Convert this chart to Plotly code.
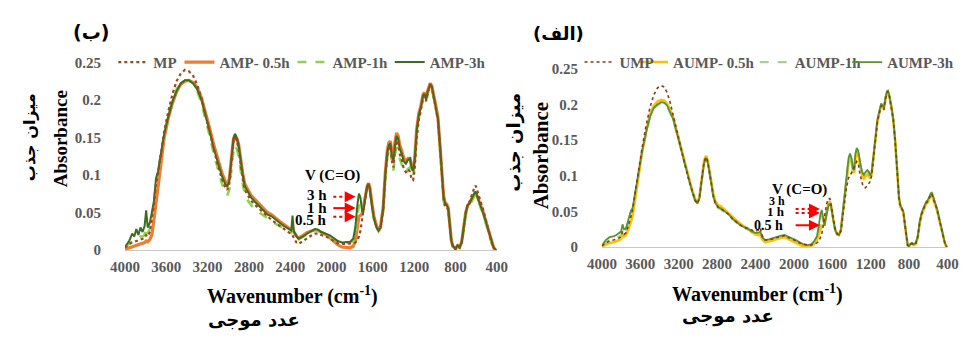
import plotly.graph_objects as go

# ---------------- Left panel (ب): MP / AMP ----------------
WN_L = [4000, 3960, 3930, 3910, 3890, 3870, 3850, 3830, 3810, 3795,
        3780, 3760, 3740, 3720, 3700, 3680, 3650, 3620, 3580, 3540,
        3500, 3460, 3420, 3380, 3340, 3300, 3260, 3220, 3180, 3140,
        3100, 3060, 3030, 3010, 2990, 2970, 2950, 2935, 2915, 2900,
        2880, 2860, 2840, 2810, 2780, 2740, 2700, 2660, 2620, 2580,
        2540, 2500, 2460, 2420, 2390, 2378, 2365, 2340, 2320, 2280,
        2240, 2200, 2160, 2130, 2100, 2060, 2020, 1980, 1940, 1900,
        1860, 1820, 1790, 1770, 1750, 1735, 1720, 1705, 1695, 1675,
        1655, 1642, 1630, 1610, 1590, 1565, 1545, 1525, 1500, 1480,
        1460, 1445, 1430, 1415, 1400, 1385, 1370, 1355, 1340, 1320,
        1300, 1280, 1260, 1240, 1225, 1210, 1195, 1175, 1155, 1135,
        1115, 1100, 1085, 1070, 1055, 1045, 1030, 1010, 990, 970,
        950, 930, 915, 900, 885, 870, 855, 840, 825, 800,
        780, 760, 740, 720, 700, 680, 665, 650, 635, 620,
        605, 590, 570, 550, 530, 510, 490, 470, 450, 430,
        410, 400]

MP = [.003, .008, .010, .011, .012, .012, .013, .014, .016, .020,
      .018, .024, .040, .060, .088, .102, .130, .158, .185, .208,
      .225, .235, .240, .238, .232, .220, .202, .180, .156, .132,
      .112, .094, .084, .080, .088, .116, .144, .150, .144, .134,
      .112, .094, .080, .072, .066, .060, .055, .049, .044, .040,
      .036, .032, .028, .024, .021, .020, .016, .010, .008, .012,
      .016, .019, .022, .022, .020, .018, .016, .012, .009, .008,
      .008, .008, .009, .010, .013, .018, .026, .040, .050, .070,
      .084, .088, .083, .062, .043, .031, .026, .030, .053, .096,
      .126, .136, .138, .118, .110, .134, .146, .142, .128, .120,
      .108, .104, .108, .104, .094, .093, .108, .150, .174, .186,
      .202, .205, .198, .208, .216, .220, .217, .204, .189, .174,
      .138, .098, .068, .058, .058, .053, .033, .011, .004, .001,
      .005, .003, .010, .030, .050, .062, .064, .070, .077, .082,
      .086, .080, .072, .063, .053, .042, .031, .020, .010, .003,
      0, 0]

AMP_05 = [.001, .003, .005, .006, .006, .007, .008, .009, .010, .012,
          .011, .014, .020, .040, .062, .085, .118, .150, .176, .196,
          .211, .221, .225, .226, .223, .216, .203, .184, .162, .140,
          .120, .102, .092, .087, .095, .122, .148, .153, .148, .141,
          .120, .102, .088, .080, .073, .067, .061, .055, .050, .047,
          .042, .038, .034, .030, .027, .030, .024, .019, .016, .019,
          .023, .025, .027, .026, .024, .021, .017, .012, .007, .004,
          .003, .003, .005, .012, .030, .045, .046, .048, .055, .072,
          .085, .089, .084, .063, .045, .032, .027, .032, .057, .102,
          .133, .143, .145, .130, .124, .145, .156, .152, .140, .132,
          .122, .118, .122, .122, .110, .106, .122, .162, .182, .192,
          .207, .210, .203, .212, .219, .222, .219, .207, .192, .177,
          .142, .102, .072, .063, .061, .056, .036, .013, .005, .002,
          .006, .004, .011, .031, .051, .060, .062, .066, .071, .074,
          .077, .072, .065, .058, .050, .040, .030, .020, .010, .003,
          0, 0]

AMP_1 = [.004, .008, .012, .014, .016, .016, .018, .018, .020, .030,
         .022, .028, .042, .062, .090, .103, .130, .156, .180, .200,
         .214, .223, .226, .226, .222, .212, .196, .175, .152, .128,
         .106, .088, .078, .073, .080, .106, .132, .140, .134, .125,
         .104, .088, .075, .066, .060, .054, .050, .046, .042, .038,
         .035, .032, .028, .025, .023, .028, .021, .016, .014, .017,
         .021, .024, .027, .026, .023, .021, .018, .014, .011, .009,
         .009, .010, .012, .022, .045, .060, .058, .050, .052, .070,
         .084, .087, .081, .060, .041, .030, .025, .029, .052, .095,
         .124, .133, .135, .115, .106, .128, .137, .134, .122, .114,
         .105, .102, .108, .110, .100, .098, .114, .154, .176, .187,
         .202, .205, .197, .207, .215, .219, .216, .203, .188, .173,
         .137, .096, .066, .057, .056, .052, .032, .010, .004, .002,
         .005, .003, .009, .028, .047, .057, .059, .063, .068, .071,
         .074, .069, .062, .055, .047, .038, .028, .018, .009, .003,
         0, 0]

AMP_3 = [.004, .012, .022, .018, .028, .020, .030, .024, .032, .053,
         .030, .036, .050, .065, .095, .105, .130, .155, .178, .198,
         .212, .222, .226, .226, .222, .214, .200, .180, .158, .135,
         .115, .098, .088, .084, .092, .120, .148, .155, .148, .140,
         .118, .100, .085, .077, .070, .064, .058, .052, .047, .045,
         .040, .036, .032, .028, .026, .046, .025, .018, .015, .018,
         .022, .025, .028, .027, .024, .022, .020, .016, .012, .010,
         .010, .011, .015, .030, .060, .075, .070, .052, .050, .070,
         .085, .088, .082, .060, .042, .030, .026, .030, .055, .100,
         .130, .140, .142, .125, .118, .140, .152, .148, .135, .128,
         .118, .115, .120, .122, .110, .105, .120, .160, .180, .190,
         .205, .208, .200, .210, .218, .221, .218, .205, .190, .175,
         .140, .100, .070, .062, .060, .055, .035, .012, .005, .002,
         .006, .004, .010, .030, .050, .060, .062, .066, .072, .075,
         .078, .072, .065, .058, .050, .040, .030, .020, .010, .003,
         0, 0]

# ---------------- Right panel (الف): UMP / AUMP ----------------
WN_R = [4000, 3960, 3920, 3880, 3850, 3820, 3800, 3785, 3770, 3750,
        3720, 3700, 3680, 3650, 3620, 3580, 3540, 3500, 3460, 3420,
        3380, 3350, 3320, 3290, 3260, 3220, 3180, 3140, 3100, 3060,
        3030, 3005, 2985, 2960, 2935, 2915, 2900, 2880, 2860, 2840,
        2820, 2790, 2760, 2720, 2680, 2640, 2600, 2560, 2520, 2480,
        2440, 2400, 2370, 2350, 2330, 2300, 2260, 2220, 2180, 2140,
        2100, 2060, 2020, 1980, 1940, 1900, 1860, 1820, 1790, 1760,
        1740, 1725, 1710, 1695, 1680, 1660, 1640, 1625, 1610, 1590,
        1570, 1550, 1530, 1510, 1490, 1470, 1450, 1430, 1415, 1400,
        1385, 1372, 1360, 1345, 1330, 1315, 1300, 1285, 1270, 1255,
        1235, 1220, 1205, 1190, 1170, 1150, 1130, 1110, 1090, 1075,
        1062, 1045, 1030, 1020, 1005, 985, 965, 945, 925, 905,
        890, 875, 860, 845, 830, 815, 800, 785, 770, 750,
        730, 710, 690, 670, 650, 635, 620, 605, 590, 575,
        565, 550, 530, 510, 490, 470, 450, 430, 415, 400]

UMP = [.002, .006, .009, .010, .011, .013, .015, .022, .018, .020,
       .032, .044, .052, .080, .108, .140, .170, .195, .213, .223,
       .226, .224, .216, .203, .186, .162, .141, .118, .097, .078,
       .066, .061, .068, .096, .120, .126, .121, .106, .088, .072,
       .062, .056, .054, .050, .046, .040, .035, .031, .028, .026,
       .023, .022, .024, .027, .016, .010, .010, .012, .014, .015,
       .016, .014, .011, .009, .006, .004, .003, .003, .004, .006,
       .008, .012, .018, .030, .045, .060, .068, .068, .058, .040,
       .026, .019, .017, .022, .040, .065, .085, .097, .100, .104,
       .108, .110, .115, .120, .118, .105, .095, .088, .084, .083,
       .086, .090, .092, .100, .125, .156, .175, .187, .198, .195,
       .192, .208, .216, .218, .211, .197, .179, .149, .109, .069,
       .057, .054, .049, .034, .014, .003, .001, .004, .005, .003,
       .005, .014, .033, .046, .053, .058, .062, .064, .070, .073,
       .075, .070, .061, .053, .041, .029, .017, .007, .002, 0]

AUMP_05 = [.001, .004, .006, .007, .008, .010, .012, .018, .015, .017,
           .026, .035, .044, .070, .100, .134, .162, .185, .198, .204,
           .206, .205, .201, .193, .183, .162, .142, .120, .099, .080,
           .068, .062, .070, .098, .122, .128, .123, .108, .091, .075,
           .065, .059, .057, .052, .048, .042, .037, .033, .029, .026,
           .021, .018, .017, .018, .011, .007, .008, .010, .012, .013,
           .014, .012, .009, .006, .003, .001, .001, .002, .004, .010,
           .018, .026, .030, .030, .034, .050, .061, .064, .057, .039,
           .025, .018, .017, .024, .046, .075, .098, .118, .125, .120,
           .106, .104, .124, .133, .130, .115, .107, .099, .096, .099,
           .102, .100, .096, .102, .127, .157, .176, .188, .199, .196,
           .193, .208, .217, .218, .211, .197, .179, .149, .109, .069,
           .056, .053, .048, .033, .014, .003, .001, .004, .005, .003,
           .005, .013, .032, .045, .052, .057, .061, .063, .069, .072,
           .074, .069, .060, .052, .040, .028, .017, .007, .002, 0]

AUMP_1 = [.002, .007, .010, .012, .013, .015, .017, .027, .021, .023,
          .036, .046, .053, .078, .104, .134, .159, .181, .194, .199,
          .202, .201, .197, .189, .179, .159, .139, .117, .096, .077,
          .065, .060, .067, .094, .117, .124, .119, .104, .087, .071,
          .061, .055, .053, .049, .045, .039, .034, .030, .027, .025,
          .022, .020, .020, .021, .013, .009, .010, .012, .014, .015,
          .016, .014, .011, .009, .006, .003, .002, .003, .006, .012,
          .024, .038, .045, .036, .032, .046, .058, .061, .055, .038,
          .024, .018, .017, .024, .048, .078, .102, .122, .128, .122,
          .108, .106, .127, .135, .132, .117, .109, .101, .098, .102,
          .105, .103, .098, .103, .128, .158, .177, .189, .200, .197,
          .194, .209, .217, .218, .211, .197, .179, .149, .109, .069,
          .057, .054, .049, .034, .014, .003, .001, .005, .006, .004,
          .006, .014, .034, .047, .054, .059, .063, .065, .071, .074,
          .076, .071, .062, .054, .042, .029, .018, .008, .002, 0]

AUMP_3 = [.002, .010, .014, .015, .017, .020, .022, .032, .025, .026,
          .040, .050, .055, .080, .105, .135, .160, .182, .195, .200,
          .203, .202, .198, .190, .180, .160, .140, .118, .097, .078,
          .066, .061, .068, .095, .118, .125, .120, .105, .088, .072,
          .062, .056, .054, .050, .046, .040, .035, .031, .028, .026,
          .022, .020, .020, .022, .014, .010, .011, .013, .015, .016,
          .017, .015, .012, .010, .007, .004, .003, .004, .008, .015,
          .030, .045, .052, .040, .030, .045, .058, .061, .055, .038,
          .024, .018, .017, .025, .050, .080, .105, .125, .131, .125,
          .110, .108, .130, .139, .135, .120, .112, .104, .101, .105,
          .108, .106, .100, .105, .130, .160, .178, .190, .201, .198,
          .195, .210, .218, .219, .212, .198, .180, .150, .110, .070,
          .058, .055, .050, .035, .015, .003, .001, .005, .006, .004,
          .006, .015, .035, .048, .055, .060, .064, .066, .072, .075,
          .077, .072, .063, .055, .043, .030, .018, .008, .002, 0]

X_TICKS = [4000, 3600, 3200, 2800, 2400, 2000, 1600, 1200, 800, 400]
Y_TICKS = [0, 0.05, 0.1, 0.15, 0.2, 0.25]
Y_TICKTEXT = ["0", "0.05", "0.1", "0.15", "0.2", "0.25"]

W, H = 975, 340


def px(x):
    return x / W


def py(y):
    return 1 - y / H


SERIF = "Liberation Serif, Times New Roman, Times, serif"
ARAB = "DejaVu Sans, Noto Sans, sans-serif"
GRAY = "#595959"

fig = go.Figure()

left_series = [
    ("MP", MP, "#A0461E", "dot", 2.2, "legend", "x", "y"),
    ("AMP- 0.5h", AMP_05, "#ED7D31", "solid", 3.2, "legend2", "x", "y"),
    ("AMP-1h", AMP_1, "#92D050", "dash", 2.6, "legend3", "x", "y"),
    ("AMP-3h", AMP_3, "#3A6E1F", "solid", 2.0, "legend4", "x", "y"),
]
right_series = [
    ("UMP", UMP, "#8B3A0E", "dot", 1.6, "legend5", "x2", "y2"),
    ("AUMP- 0.5h", AUMP_05, "#FFC000", "solid", 2.6, "legend6", "x2", "y2"),
    ("AUMP-1h", AUMP_1, "#A9D18E", "dash", 2.2, "legend7", "x2", "y2"),
    ("AUMP-3h", AUMP_3, "#5A9232", "solid", 1.8, "legend8", "x2", "y2"),
]

draw_order = [1, 2, 3, 0]
for series, wn in ((left_series, WN_L), (right_series, WN_R)):
    for i in draw_order:
        name, vals, col, dash, wid, leg, xa, ya = series[i]
        fig.add_trace(go.Scatter(
            x=wn, y=vals, name=name, mode="lines",
            line=dict(color=col, dash=dash, width=wid),
            xaxis=xa, yaxis=ya, legend=leg, showlegend=True,
        ))

axis_font = dict(family=SERIF, size=15, color=GRAY, weight="bold")
xcommon = dict(range=[4000, 400], tickvals=X_TICKS, ticks="outside", ticklen=3,
               tickcolor="rgba(0,0,0,0)", showgrid=False,
               zeroline=False, showline=True, linecolor="#C8C8C8", linewidth=1,
               tickfont=axis_font, fixedrange=True)
ycommon = dict(range=[0, 0.25], tickvals=Y_TICKS, ticktext=Y_TICKTEXT,
               ticks="outside", ticklen=20, tickcolor="rgba(0,0,0,0)",
               showgrid=False, zeroline=False, showline=False,
               tickfont=axis_font, fixedrange=True)

legend_font = dict(family=SERIF, size=15, color=GRAY, weight="bold")
leg_text_start = {"legend": 150, "legend2": 218, "legend3": 334, "legend4": 434,
                  "legend5": 629, "legend6": 684, "legend7": 809, "legend8": 904}
legends = {}
for k, xs in leg_text_start.items():
    legends[k] = dict(x=px(xs - 49), y=py(57), xanchor="left", yanchor="middle",
                      orientation="h", font=legend_font, bgcolor="rgba(0,0,0,0)",
                      borderwidth=0, itemwidth=30)

fig.update_layout(
    width=W, height=H, autosize=False,
    margin=dict(l=0, r=0, t=0, b=0),
    paper_bgcolor="white", plot_bgcolor="white",
    xaxis=dict(domain=[px(113), px(495)], anchor="y", **xcommon),
    yaxis=dict(domain=[1 - 254 / H, 1 - 57 / H], anchor="x", **ycommon),
    xaxis2=dict(domain=[px(603), px(958)], anchor="y2", **xcommon),
    yaxis2=dict(domain=[1 - 251 / H, 1 - 63.5 / H], anchor="x2", **ycommon),
    **legends,
)

ann = []


def text(x, y, s, size, family=SERIF, color="black", angle=0, xanchor="center"):
    ann.append(dict(x=px(x), y=py(y), xref="paper", yref="paper", text=s,
                    showarrow=False, textangle=angle, xanchor=xanchor, yanchor="middle",
                    font=dict(family=family, size=size, color=color)))


# panel labels
text(78, 25, "<b>(ب)</b>", 19, family=ARAB)
text(558, 27, "<b>(الف)</b>", 18, family=ARAB)
# x titles
text(285, 302, "<b>Wavenumber (cm<sup>-1</sup>)</b>", 20)
text(763, 300, "<b>Wavenumber (cm<sup>-1</sup>)</b>", 20)
text(246, 327, "<b>عدد موجی</b>", 18, family=ARAB)
text(733, 323, "<b>عدد موجی</b>", 18, family=ARAB)
# y titles
text(47, 137, "<b>Absorbance</b>", 19, angle=-90)
text(15, 136, "<b>میزان جذب</b>", 16, family=ARAB, angle=-90)
text(540, 155, "<b>Absorbance</b>", 21, angle=-90)
text(513, 141, "<b>میزان جذب</b>", 18, family=ARAB, angle=-90)
# C=O annotations left
text(326, 176, "<b>V (C=O)</b>", 15)
text(323, 196, "<b>3 h</b>", 15, xanchor="right")
text(323, 210, "<b>1 h</b>", 15, xanchor="right")
text(323, 222, "<b>0.5 h</b>", 15, xanchor="right")
# C=O annotations right
text(806, 190, "<b>V (C=O)</b>", 15)
text(793, 203, "<b>3 h</b>", 12, xanchor="right")
text(793, 214, "<b>1 h</b>", 13, xanchor="right")
text(791, 228, "<b>0.5 h</b>", 14, xanchor="right")

shapes = []
arrows = [(327, 350, 198, "dot"), (327, 350, 210, "solid"), (327, 350, 219, "dot"),
          (802, 827, 211, "dot"), (802, 827, 215, "dot"), (802, 827, 228, "solid")]
for x0, x1, yy, dsh in arrows:
    shapes.append(dict(type="line", xref="paper", yref="paper",
                       x0=px(x0), x1=px(x1 - 6), y0=py(yy), y1=py(yy),
                       line=dict(color="#FF0000", width=2, dash=dsh)))
    ann.append(dict(x=px(x1), y=py(yy), xref="paper", yref="paper", text="",
                    showarrow=True, ax=-7, ay=0, axref="pixel", ayref="pixel",
                    arrowhead=2, arrowsize=1.1, arrowwidth=2, arrowcolor="#FF0000",
                    standoff=0, startstandoff=0))

fig.update_layout(annotations=ann, shapes=shapes)

fig.write_html("out.html")
